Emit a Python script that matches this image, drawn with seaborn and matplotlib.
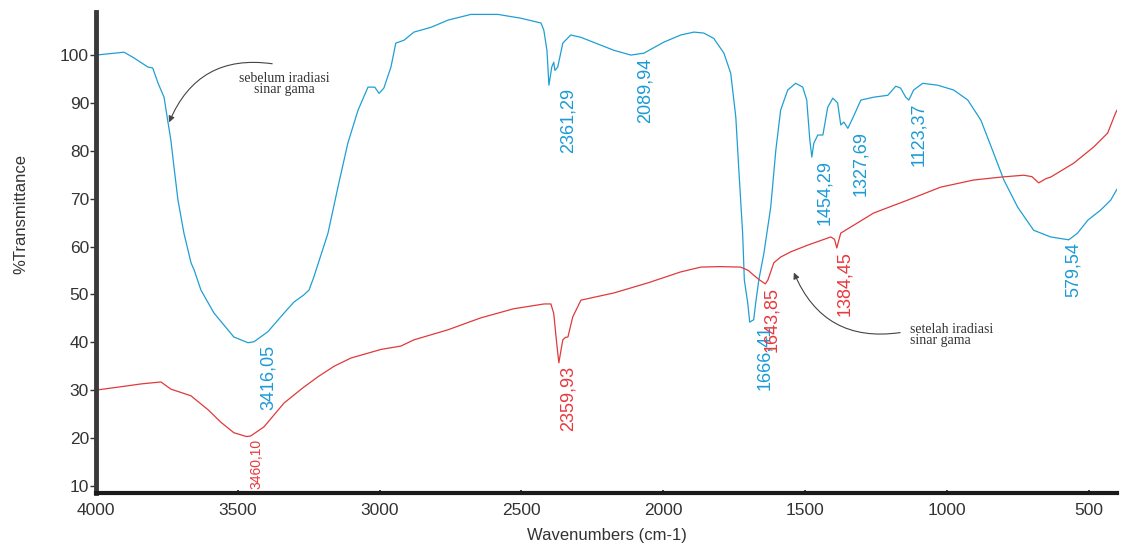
import numpy as np
import pandas as pd
import seaborn as sns
import matplotlib.pyplot as plt
from matplotlib.ticker import MultipleLocator

# spektrum sebelum iradiasi (biru)
blue_x = [4000, 3901, 3866, 3817, 3800, 3781, 3760, 3753, 3736, 3725, 3711, 3690,
          3665, 3654, 3630, 3584, 3514, 3464, 3443, 3394, 3337, 3302, 3267, 3249,
          3232, 3182, 3147, 3112, 3076, 3041, 3017, 3002, 2985, 2960, 2943, 2914,
          2879, 2819, 2759, 2678, 2583, 2502, 2431, 2421, 2410, 2403, 2393, 2386,
          2382, 2372, 2354, 2326, 2290, 2174, 2114, 2068, 1998, 1938, 1892, 1857,
          1822, 1786, 1762, 1744, 1734, 1720, 1714, 1702, 1695, 1681, 1674, 1663,
          1645, 1621, 1603, 1586, 1561, 1533, 1508, 1494, 1483, 1476, 1469, 1455,
          1437, 1420, 1402, 1385, 1374, 1363, 1349, 1332, 1303, 1258, 1208, 1180,
          1163, 1145, 1134, 1117, 1085, 1032, 976, 926, 880, 835, 799, 750, 694,
          634, 570, 539, 503, 458, 422, 400]
blue_y = [100, 100.6, 99.4, 97.5, 97.3, 94.1, 91.2, 88.5, 82.2, 76.6, 69.7, 62.8,
          56.6, 55.1, 50.9, 46.1, 41.1, 39.9, 40.1, 42.2, 46.1, 48.4, 49.9, 50.9,
          53.6, 62.8, 72.4, 81.6, 88.5, 93.3, 93.3, 92.0, 93.1, 97.5, 102.5, 103.1,
          104.8, 105.8, 107.3, 108.5, 108.5, 107.7, 106.7, 105.2, 101, 93.7, 97.5, 98.5,
          96.8, 97.5, 102.5, 104.2, 103.7, 101, 100, 100.4, 102.7, 104.2, 104.8, 104.6,
          103.5, 100.4, 96.2, 87, 76.6, 62.8, 53, 48.2, 44.2, 44.7, 48.2, 53,
          58.6, 68.2, 80.1, 88.5, 92.7, 94.1, 93.3, 90.6, 82.2, 78.7, 81.6, 83.3,
          83.3, 89.1, 91, 90, 85.4, 86, 84.7, 86.8, 90.6, 91.2, 91.6, 93.5,
          93.1, 91.2, 90.6, 92.7, 94.1, 93.7, 92.7, 90.6, 86.4, 79.5, 73.9, 68.2, 63.4,
          62, 61.4, 62.8, 65.5, 67.6, 69.7, 72]

# spektrum setelah iradiasi (merah)
red_x = [4000, 3912, 3840, 3771, 3736, 3700, 3665, 3605, 3560, 3514, 3470, 3455,
         3408, 3337, 3270, 3217, 3160, 3101, 2995, 2925, 2879, 2759, 2643, 2527,
         2420, 2396, 2386, 2376, 2368, 2360, 2354, 2345, 2336, 2319, 2290, 2174,
         2054, 1938, 1867, 1800, 1727, 1700, 1681, 1660, 1640, 1631, 1610, 1586,
         1550, 1490, 1409, 1396, 1388, 1380, 1374, 1258, 1138, 1022, 905, 810,
         729, 700, 676, 650, 634, 553, 482, 433, 405, 400]
red_y = [30, 30.7, 31.3, 31.7, 30.2, 29.5, 28.8, 25.9, 23.3, 21.1, 20.3, 20.4,
         22.3, 27.3, 30.5, 32.8, 35, 36.7, 38.5, 39.2, 40.5, 42.6, 45.1, 47,
         48, 48, 46, 40, 35.7, 38.5, 40.5, 41, 41.1, 45.3, 48.8, 50.3,
         52.4, 54.7, 55.7, 55.8, 55.7, 55, 54, 53, 52.2, 53, 56.6, 57.8,
         58.9, 60.3, 62, 61.5, 59.7, 61.5, 62.8, 67, 69.7, 72.4, 73.9, 74.5,
         74.9, 74.6, 73.3, 74.2, 74.5, 77.4, 80.8, 83.7, 87.9, 88.5]

blue_peaks = ["3416,05", "2361,29", "2089,94", "1666,41", "1454,29", "1327,69",
              "1123,37", "579,54"]
red_peaks = ["3460,10", "2359,93", "1643,85", "1384,45"]

x_ticks = [4000, 3500, 3000, 2500, 2000, 1500, 1000, 500]
y_ticks = [10, 20, 30, 40, 50, 60, 70, 80, 90, 100]

BLUE = "#1e9fd4"
RED = "#e0393b"

sns.set_theme(style="white")
plt.rcParams["font.family"] = ["Liberation Sans", "DejaVu Sans"]


def label_peaks(ax, xs, ys, peaks, color):
    xs = np.array(xs)
    ys = np.array(ys)
    for p in peaks:
        v = float(p.replace(",", "."))
        m = (xs > v - 45) & (xs < v + 45)
        ymin = ys[m].min()
        # label paling bawah dikecilkan supaya tidak lewat sumbu
        size = 10 if ymin < 25 else 13
        ax.annotate(p, xy=(v, ymin), xytext=(5, -2), textcoords="offset points",
                    rotation=90, ha="center", va="top", color=color, fontsize=size)


def main():
    df_b = pd.DataFrame({"wn": blue_x, "T": blue_y})
    df_r = pd.DataFrame({"wn": red_x, "T": red_y})

    fig = plt.figure(figsize=(11.22, 5.48), dpi=100)
    ax = fig.add_axes([96 / 1122, 55 / 548, 1021 / 1122, 481 / 548])

    sns.lineplot(data=df_b, x="wn", y="T", ax=ax, sort=False, estimator=None,
                 color=BLUE, lw=0.9)
    sns.lineplot(data=df_r, x="wn", y="T", ax=ax, sort=False, estimator=None,
                 color=RED, lw=0.9)

    ax.set_xlim(4000, 400)
    ax.set_ylim(8.5, 109)
    ax.set_xticks(x_ticks)
    ax.set_yticks(y_ticks)
    ax.yaxis.set_minor_locator(MultipleLocator(2))

    for s in ["top", "right"]:
        ax.spines[s].set_visible(False)
    ax.spines["left"].set_linewidth(3.5)
    ax.spines["left"].set_color("#3a3a3a")
    ax.spines["bottom"].set_linewidth(3)
    ax.spines["bottom"].set_color("#1a1a1a")

    ax.tick_params(axis="y", which="major", direction="out", length=4, width=1,
                   pad=1, labelsize=12.5, labelcolor="#333333", color="#333333", left=True)
    ax.tick_params(axis="y", which="minor", direction="inout", length=3, width=0.8,
                   color="#222222", left=True)
    ax.tick_params(axis="x", which="major", direction="in", length=2, pad=7,
                   labelsize=12.5, labelcolor="#333333", bottom=True)

    ax.set_xlabel("Wavenumbers (cm-1)", fontsize=12, color="#333333")
    ax.set_ylabel("%Transmittance", fontsize=12, color="#333333")
    ax.xaxis.set_label_coords(0.5, -0.073)
    ax.yaxis.set_label_coords(-0.066, 0.58)

    label_peaks(ax, blue_x, blue_y, blue_peaks, "#1a9ad6")
    label_peaks(ax, red_x, red_y, red_peaks, "#e8383d")

    # keterangan
    serif = ["Liberation Serif", "DejaVu Serif"]
    ax.annotate("", xy=(3746, 85.4), xytext=(3369, 98.1),
                arrowprops=dict(arrowstyle="-|>", connectionstyle="arc3,rad=0.4",
                                color="#444444", lw=0.8, mutation_scale=9))
    ax.text(3337, 94.0, "sebelum iradiasi\nsinar gama", ha="center", va="center",
            fontsize=10, family=serif, color="#333333", linespacing=0.85)
    ax.annotate("", xy=(1543, 55.1), xytext=(1155, 42.1),
                arrowprops=dict(arrowstyle="-|>", connectionstyle="arc3,rad=-0.4",
                                color="#444444", lw=0.8, mutation_scale=9))
    ax.text(1131, 41.5, "setelah iradiasi\nsinar gama", ha="left", va="center",
            fontsize=10, family=serif, color="#333333", linespacing=0.85)

    fig.savefig("out.png", dpi=100)


if __name__ == "__main__":
    main()
